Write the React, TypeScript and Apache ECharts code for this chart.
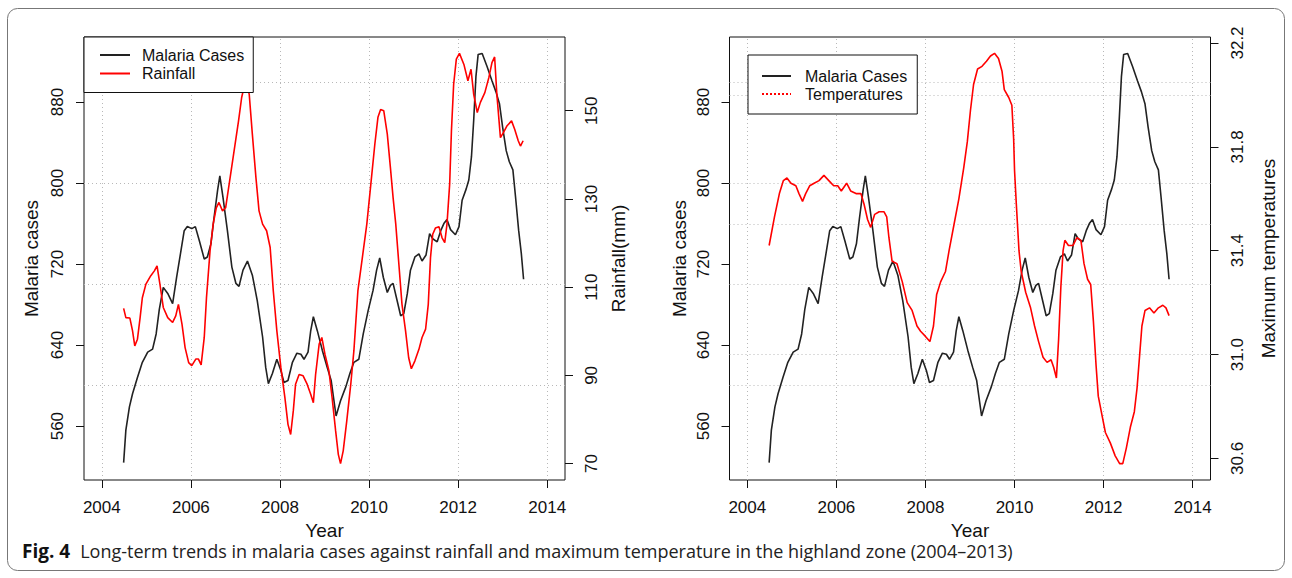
import React, { useEffect, useRef } from 'react';
import * as echarts from 'echarts';

// ---------- ticks / reference lines ----------
const yearTicks = [2004, 2006, 2008, 2010, 2012, 2014];
const casesTicks = [560, 640, 720, 800, 880];
const rainTicks = [70, 90, 110, 130, 150];
const tempTicks = [30.6, 31.0, 31.4, 31.8, 32.2];
const casesGrid = [600, 700, 800, 900];
const tempGrid = [31.0, 31.5, 32.0];

// ---------- malaria cases (both panels) ----------
const malariaYears = [
  2004.49, 2004.54, 2004.62, 2004.69, 2004.80, 2004.91, 2005.03, 2005.14, 2005.22, 2005.29,
  2005.38, 2005.48, 2005.59, 2005.68, 2005.78, 2005.85, 2005.92, 2006.02, 2006.10, 2006.19,
  2006.30, 2006.37, 2006.45, 2006.52, 2006.60, 2006.65, 2006.72, 2006.82, 2006.92, 2007.01,
  2007.08, 2007.17, 2007.27, 2007.38, 2007.49, 2007.61, 2007.68, 2007.74, 2007.83, 2007.93,
  2008.02, 2008.09, 2008.18, 2008.28, 2008.38, 2008.47, 2008.54, 2008.63, 2008.69, 2008.75,
  2008.84, 2008.95, 2009.06, 2009.15, 2009.26, 2009.36, 2009.48, 2009.57, 2009.66, 2009.77,
  2009.87, 2009.98, 2010.09, 2010.17, 2010.24, 2010.32, 2010.41, 2010.48, 2010.54, 2010.63,
  2010.71, 2010.78, 2010.86, 2010.93, 2011.03, 2011.12, 2011.19, 2011.28, 2011.36, 2011.43,
  2011.53, 2011.61, 2011.68, 2011.75, 2011.83, 2011.94, 2012.02, 2012.09, 2012.18, 2012.24,
  2012.30, 2012.35, 2012.40, 2012.45, 2012.54, 2012.65, 2012.76, 2012.85, 2012.93, 2013.00,
  2013.08, 2013.15, 2013.23, 2013.29, 2013.36, 2013.42, 2013.47,
];
const malariaCases = [
  524, 556, 579, 592, 608, 623, 633, 636, 651, 675,
  697, 691, 681, 707, 734, 753, 757, 755, 757, 743,
  725, 727, 740, 766, 793, 807, 786, 753, 717, 701,
  698, 714, 723, 709, 684, 648, 618, 602, 612, 626,
  615, 603, 605, 623, 632, 631, 626, 633, 654, 668,
  654, 635, 618, 605, 570, 585, 599, 612, 623, 626,
  651, 674, 694, 714, 726, 707, 692, 699, 701, 684,
  669, 671, 691, 714, 727, 730, 723, 729, 750, 745,
  742, 753, 760, 764, 754, 749, 757, 783, 794, 803,
  826, 862, 905, 927, 928, 915, 901, 890, 878, 855,
  832, 821, 813, 786, 753, 730, 705,
];

// ---------- rainfall (mm) ----------
const rainYears = [
  2004.49, 2004.54, 2004.63, 2004.69, 2004.74, 2004.80, 2004.86, 2004.91, 2004.99, 2005.10,
  2005.18, 2005.24, 2005.30, 2005.38, 2005.48, 2005.59, 2005.66, 2005.72, 2005.80, 2005.87,
  2005.95, 2006.02, 2006.11, 2006.17, 2006.23, 2006.30, 2006.35, 2006.43, 2006.50, 2006.57,
  2006.63, 2006.71, 2006.78, 2006.87, 2006.97, 2007.07, 2007.14, 2007.23, 2007.31, 2007.38,
  2007.46, 2007.53, 2007.61, 2007.70, 2007.78, 2007.85, 2007.93, 2008.02, 2008.11, 2008.18,
  2008.24, 2008.30, 2008.35, 2008.43, 2008.52, 2008.61, 2008.69, 2008.75, 2008.80, 2008.88,
  2008.94, 2009.01, 2009.10, 2009.17, 2009.25, 2009.31, 2009.36, 2009.42, 2009.50, 2009.59,
  2009.66, 2009.75, 2009.85, 2009.95, 2010.04, 2010.13, 2010.20, 2010.26, 2010.33, 2010.41,
  2010.48, 2010.54, 2010.60, 2010.67, 2010.74, 2010.82, 2010.89, 2010.95, 2011.03, 2011.12,
  2011.19, 2011.27, 2011.33, 2011.38, 2011.43, 2011.49, 2011.57, 2011.64, 2011.70, 2011.75,
  2011.81, 2011.85, 2011.90, 2011.96, 2012.03, 2012.13, 2012.22, 2012.29, 2012.35, 2012.43,
  2012.50, 2012.60, 2012.69, 2012.76, 2012.82, 2012.87, 2012.95, 2013.02, 2013.10, 2013.20,
  2013.27, 2013.35, 2013.40, 2013.46,
];
const rainfall = [
  105.2, 103.1, 103.0, 100.1, 96.7, 98.2, 103.1, 107.6, 110.7, 112.6,
  113.7, 114.8, 111.0, 105.4, 103.1, 102.0, 103.5, 106.1, 101.6, 96.3,
  92.9, 92.2, 93.7, 93.7, 92.4, 98.6, 107.6, 118.2, 124.3, 128.0,
  129.2, 127.3, 128.0, 134.1, 140.9, 147.7, 153.0, 157.0, 153.7, 144.7,
  134.9, 127.3, 124.3, 122.8, 119.0, 109.2, 100.1, 91.8, 85.0, 78.9,
  76.6, 82.0, 88.0, 90.2, 89.9, 88.0, 85.7, 83.8, 90.2, 97.1,
  98.6, 94.8, 91.0, 85.0, 77.4, 72.1, 70.0, 72.9, 79.7, 88.0,
  95.6, 109.2, 116.7, 124.3, 133.3, 142.4, 148.5, 150.3, 150.0, 144.7,
  137.1, 130.3, 124.3, 115.2, 106.1, 100.1, 94.0, 91.5, 93.3, 95.9,
  98.6, 100.5, 106.1, 116.7, 122.0, 123.4, 123.7, 121.2, 120.1, 124.3,
  133.3, 145.4, 156.0, 161.7, 163.0, 160.5, 156.8, 159.4, 153.7, 149.6,
  151.9, 154.1, 157.5, 160.9, 162.2, 153.7, 143.9, 145.1, 146.6, 147.7,
  145.8, 143.2, 142.0, 143.2,
];

// ---------- maximum temperature ----------
const tempYears = [
  2004.49, 2004.61, 2004.72, 2004.81, 2004.89, 2004.98, 2005.09, 2005.16, 2005.24, 2005.31,
  2005.40, 2005.50, 2005.61, 2005.72, 2005.83, 2005.94, 2006.03, 2006.11, 2006.23, 2006.32,
  2006.44, 2006.55, 2006.62, 2006.70, 2006.77, 2006.86, 2006.96, 2007.07, 2007.13, 2007.18,
  2007.25, 2007.36, 2007.48, 2007.59, 2007.70, 2007.81, 2007.89, 2008.00, 2008.10, 2008.18,
  2008.25, 2008.34, 2008.45, 2008.53, 2008.64, 2008.75, 2008.86, 2008.94, 2009.01, 2009.08,
  2009.17, 2009.27, 2009.37, 2009.46, 2009.55, 2009.64, 2009.72, 2009.77, 2009.87, 2009.94,
  2009.98, 2010.00, 2010.04, 2010.10, 2010.15, 2010.25, 2010.36, 2010.45, 2010.54, 2010.64,
  2010.73, 2010.82, 2010.88, 2010.94, 2010.99, 2011.04, 2011.09, 2011.13, 2011.21, 2011.31,
  2011.40, 2011.49, 2011.56, 2011.64, 2011.71, 2011.77, 2011.83, 2011.88, 2011.96, 2012.04,
  2012.15, 2012.26, 2012.36, 2012.43, 2012.51, 2012.60, 2012.69, 2012.75, 2012.81, 2012.86,
  2012.93, 2013.03, 2013.13, 2013.23, 2013.33, 2013.40, 2013.47,
];
const temperatures = [
  31.42, 31.53, 31.62, 31.67, 31.68, 31.66, 31.65, 31.62, 31.59, 31.62,
  31.65, 31.66, 31.67, 31.69, 31.67, 31.65, 31.65, 31.63, 31.66, 31.63,
  31.62, 31.62, 31.58, 31.52, 31.49, 31.54, 31.55, 31.55, 31.53, 31.45,
  31.36, 31.35, 31.28, 31.20, 31.17, 31.11, 31.09, 31.07, 31.05, 31.11,
  31.23, 31.28, 31.32, 31.40, 31.50, 31.60, 31.72, 31.82, 31.94, 32.04,
  32.10, 32.11, 32.13, 32.15, 32.16, 32.14, 32.09, 32.02, 31.99, 31.96,
  31.83, 31.71, 31.58, 31.40, 31.32, 31.24, 31.18, 31.11, 31.05, 30.99,
  30.97, 30.98, 30.95, 30.91, 31.06, 31.26, 31.40, 31.44, 31.42, 31.42,
  31.45, 31.44, 31.35, 31.29, 31.27, 31.13, 30.96, 30.84, 30.77, 30.70,
  30.66, 30.61, 30.58, 30.58, 30.64, 30.72, 30.78, 30.87, 31.00, 31.11,
  31.17, 31.18, 31.16, 31.18, 31.19, 31.18, 31.15,
];

const captionBold = 'Fig. 4';
const captionText =
  'Long-term trends in malaria cases against rainfall and maximum temperature in the highland zone (2004\u20132013)';

const FONT = '"Liberation Sans", Arial, sans-serif';
const CAP_FONT = '"Open Sans", "Noto Sans", sans-serif';
const INK = '#111';

const pairs = (xs: number[], ys: number[]) => xs.map((x, i) => [x, ys[i]]);

const gridLineStyle = { color: '#b8b8b8', width: 1, type: [1, 3] as any };

function makeXAxis(gridIndex: number) {
  return {
    type: 'value',
    gridIndex,
    min: 2003.6,
    max: 2014.4,
    axisLine: { show: false },
    axisTick: { show: true, length: 8, customValues: yearTicks, lineStyle: { color: INK, width: 1 } },
    axisLabel: {
      customValues: yearTicks,
      fontSize: 17,
      color: INK,
      fontFamily: FONT,
      margin: 19,
      formatter: (v: number) => String(v),
    },
    splitLine: { show: false },
    name: 'Year',
    nameLocation: 'middle',
    nameGap: 35,
    nameTextStyle: { fontSize: 19, lineHeight: 19, color: INK, fontFamily: FONT },
  };
}

function makeYAxis(
  gridIndex: number,
  position: string,
  min: number,
  max: number,
  ticks: number[],
  name: string,
  nameGap: number,
  fmt: (v: number) => string
) {
  return {
    type: 'value',
    gridIndex,
    position,
    min,
    max,
    axisLine: { show: false },
    axisTick: { show: true, length: 8, customValues: ticks, lineStyle: { color: INK, width: 1 } },
    axisLabel: {
      customValues: ticks,
      rotate: 90,
      fontSize: 17,
      color: INK,
      fontFamily: FONT,
      margin: 18,
      formatter: fmt,
    },
    splitLine: { show: false },
    name,
    nameLocation: 'middle',
    nameGap,
    nameRotate: 90,
    nameTextStyle: { fontSize: 19, color: INK, fontFamily: FONT },
  };
}

function lineSeries(name: string, xi: number, yi: number, data: number[][], color: string, markLineData?: any[]) {
  const s: any = {
    type: 'line',
    name,
    xAxisIndex: xi,
    yAxisIndex: yi,
    data,
    symbol: 'none',
    showSymbol: false,
    silent: true,
    z: 3,
    lineStyle: { color, width: 1.6 },
    itemStyle: { color },
  };
  if (markLineData) {
    s.markLine = {
      silent: true,
      z: 1,
      symbol: ['none', 'none'],
      label: { show: false },
      lineStyle: gridLineStyle,
      emphasis: { disabled: true },
      data: markLineData,
    };
  }
  return s;
}

const legendBase = {
  orient: 'vertical',
  itemWidth: 30,
  itemHeight: 16,
  backgroundColor: '#fff',
  borderColor: INK,
  borderWidth: 1,
  borderRadius: 0,
  selectedMode: false,
  z: 10,
  itemStyle: { color: 'rgba(0,0,0,0)', borderColor: 'rgba(0,0,0,0)', borderWidth: 0, opacity: 0 },
};

export default function App() {
  const ref = useRef<HTMLDivElement>(null);

  useEffect(() => {
    if (!ref.current) return;
    const chart = echarts.init(ref.current, undefined, { renderer: 'svg' });

    const verticalLines = yearTicks.map((y) => ({ xAxis: y }));
    const casesLines = casesGrid.map((v) => ({ yAxis: v }));
    const tempLines = tempGrid.map((v) => ({ yAxis: v }));

    chart.setOption({
      animation: false,
      backgroundColor: '#fff',
      grid: [
        { left: 84, top: 37, width: 481, height: 443, show: true, borderColor: INK, borderWidth: 1, backgroundColor: 'transparent' },
        { left: 729.5, top: 37, width: 481, height: 443, show: true, borderColor: INK, borderWidth: 1, backgroundColor: 'transparent' },
      ],
      xAxis: [makeXAxis(0), makeXAxis(1)],
      yAxis: [
        makeYAxis(0, 'left', 506.8, 944.2, casesTicks, 'Malaria cases', 43, (v) => String(v)),
        makeYAxis(0, 'right', 66.28, 166.72, rainTicks, 'Rainfall(mm)', 44, (v) => String(v)),
        makeYAxis(1, 'left', 506.8, 944.2, casesTicks, 'Malaria cases', 41, (v) => String(v)),
        makeYAxis(1, 'right', 30.517, 32.223, tempTicks, 'Maximum temperatures', 48, (v) => v.toFixed(1)),
      ],
      legend: [
        {
          ...legendBase,
          left: 84,
          top: 37,
          padding: [10, 9, 11, 15],
          itemGap: 2.5,
          textStyle: { fontSize: 16, color: INK, fontFamily: FONT, padding: [0, 0, 0, 7] },
          data: ['Malaria Cases', 'Rainfall'],
        },
        {
          ...legendBase,
          left: 748,
          top: 55,
          padding: [13, 10, 12, 13],
          itemWidth: 29,
          itemGap: 2,
          textStyle: { fontSize: 16, color: INK, fontFamily: FONT, padding: [0, 0, 0, 9] },
          data: ['Malaria Cases', { name: 'Temperatures', lineStyle: { type: 'dotted' } }],
        },
      ],
      series: [
        lineSeries('Malaria Cases', 0, 0, pairs(malariaYears, malariaCases), '#222', [...verticalLines, ...casesLines]),
        lineSeries('Rainfall', 0, 1, pairs(rainYears, rainfall), '#ff0000'),
        lineSeries('Malaria Cases', 1, 2, pairs(malariaYears, malariaCases), '#222', [...verticalLines, ...casesLines]),
        lineSeries('Temperatures', 1, 3, pairs(tempYears, temperatures), '#ff0000', tempLines),
      ],
      graphic: [
        {
          type: 'rect',
          silent: true,
          shape: { x: 7.5, y: 8.5, width: 1277, height: 562, r: 10 },
          style: { fill: 'none', stroke: '#777', lineWidth: 1 },
        },
        {
          type: 'text',
          silent: true,
          x: 22,
          y: 551,
          style: {
            text: `{b|${captionBold}}   {n|${captionText}}`,
            verticalAlign: 'middle',
            rich: {
              b: { fontFamily: CAP_FONT, fontWeight: 'bold', fontSize: 19, lineHeight: 20, fill: '#111' },
              n: { fontFamily: CAP_FONT, fontSize: 18, lineHeight: 20, fill: '#222' },
            },
          },
        },
      ],
    });

    return () => chart.dispose();
  }, []);

  return (
    <div
      ref={ref}
      style={{ position: 'absolute', left: 0, top: 0, width: 1292, height: 578, background: '#fff' }}
    />
  );
}
